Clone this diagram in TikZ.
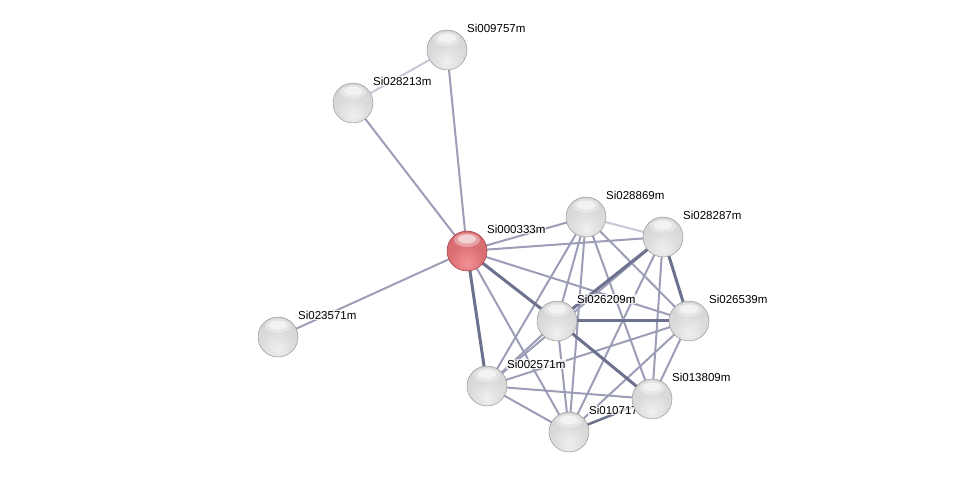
\documentclass[tikz,border=0pt]{standalone}
\usepackage{fontspec}
\setmainfont{Liberation Sans}
\usetikzlibrary{backgrounds}
\definecolor{edgemid}{RGB}{155,158,182}
\definecolor{edgedark}{RGB}{108,113,142}
\definecolor{edgelight}{RGB}{198,200,214}
\definecolor{balllite}{RGB}{240,240,240}
\definecolor{ballmid}{RGB}{205,205,205}
\definecolor{ballrim}{RGB}{145,145,145}
\definecolor{seedlite}{RGB}{242,146,150}
\definecolor{seedmid}{RGB}{212,100,105}
\definecolor{seedrim}{RGB}{160,60,68}
\pgfdeclareradialshading{protball}{\pgfqpoint{0bp}{-16bp}}{%
  color(0bp)=(balllite); color(20bp)=(ballmid!60!balllite);
  color(48bp)=(ballmid); color(64bp)=(ballrim); color(80bp)=(ballrim)}
\pgfdeclareradialshading{seedball}{\pgfqpoint{0bp}{-16bp}}{%
  color(0bp)=(seedlite); color(20bp)=(seedmid!75!seedlite);
  color(48bp)=(seedmid); color(64bp)=(seedrim); color(80bp)=(seedrim)}
\begin{document}
\begin{tikzpicture}[x=1pt,y=-1pt,
  prot/.style={circle,minimum size=40pt,inner sep=0pt,shading=protball,
    draw=gray!80,line width=0.5pt,
    path picture={
      \fill[white,opacity=0.35] ([yshift=-9pt]path picture bounding box.north) ellipse (13pt and 7pt);
      \fill[white,opacity=0.55] ([yshift=-8pt]path picture bounding box.north) ellipse (9pt and 4.5pt);}},
  seed/.style={prot,shading=seedball,draw=seedrim},
  tag/.style={anchor=west,font=\fontsize{11.5}{13}\selectfont,fill=white,fill opacity=0.75,text opacity=1,inner sep=1pt},
  link/.style={line width=2pt,edgemid},
  weak/.style={line width=2pt,edgelight},
  strong/.style={line width=3pt,edgedark}]
  \useasboundingbox (0,0) rectangle (975,478);
  % proteins
  \node[prot] (p009757) at (447,50) {};
  \node[tag] (t009757) at ([shift={(19,-22)}]p009757.center) {Si009757m};
  \node[prot] (p028213) at (353,103) {};
  \node[tag] (t028213) at ([shift={(19,-22)}]p028213.center) {Si028213m};
  \node[prot] (p023571) at (278,337) {};
  \node[tag] (t023571) at ([shift={(19,-22)}]p023571.center) {Si023571m};
  \node[seed] (p000333) at (467,251) {};
  \node[tag] (t000333) at ([shift={(19,-22)}]p000333.center) {Si000333m};
  \node[prot] (p028869) at (586,217) {};
  \node[tag] (t028869) at ([shift={(19,-22)}]p028869.center) {Si028869m};
  \node[prot] (p028287) at (663,237) {};
  \node[tag] (t028287) at ([shift={(19,-22)}]p028287.center) {Si028287m};
  \node[prot] (p026539) at (689,321) {};
  \node[tag] (t026539) at ([shift={(19,-22)}]p026539.center) {Si026539m};
  \node[prot] (p026209) at (557,321) {};
  \node[tag] (t026209) at ([shift={(19,-22)}]p026209.center) {Si026209m};
  \node[prot] (p002571) at (487,386) {};
  \node[tag] (t002571) at ([shift={(19,-22)}]p002571.center) {Si002571m};
  \node[prot] (p010717) at (569,432) {};
  \node[tag] (t010717) at ([shift={(19,-22)}]p010717.center) {Si010717m};
  \node[prot] (p013809) at (652,399) {};
  \node[tag] (t013809) at ([shift={(19,-22)}]p013809.center) {Si013809m};
  % interactions
  \begin{scope}[on background layer]
    \draw[weak] (p028213.center) -- (p009757.center);
    \draw[weak] (p028869.center) -- (p028287.center);
    \foreach \b in {009757,028213,023571,028869,028287,026539,010717}
      \draw[link] (p000333.center) -- (p\b.center);
    \foreach \b in {002571,026209,010717,013809,026539}
      \draw[link] (p028869.center) -- (p\b.center);
    \foreach \b in {002571,013809,010717}
      \draw[link] (p028287.center) -- (p\b.center);
    \foreach \b in {010717,002571}
      \draw[link] (p026209.center) -- (p\b.center);
    \foreach \b in {010717,013809,002571}
      \draw[link] (p026539.center) -- (p\b.center);
    \draw[link] (p002571.center) -- (p013809.center);
    \draw[link] (p002571.center) -- (p010717.center);
    \draw[strong] (p000333.center) -- (p026209.center);
    \draw[strong] (p026209.center) -- (p013809.center);
    \draw[strong] (p000333.center) -- (p002571.center);
    \draw[strong] (p028287.center) -- (p026209.center);
    \draw[strong] (p028287.center) -- (p026539.center);
    \draw[strong] (p026209.center) -- (p026539.center);
    \draw[strong,line width=2.5pt] (p010717.center) -- (p013809.center);
  \end{scope}
\end{tikzpicture}
\end{document}
